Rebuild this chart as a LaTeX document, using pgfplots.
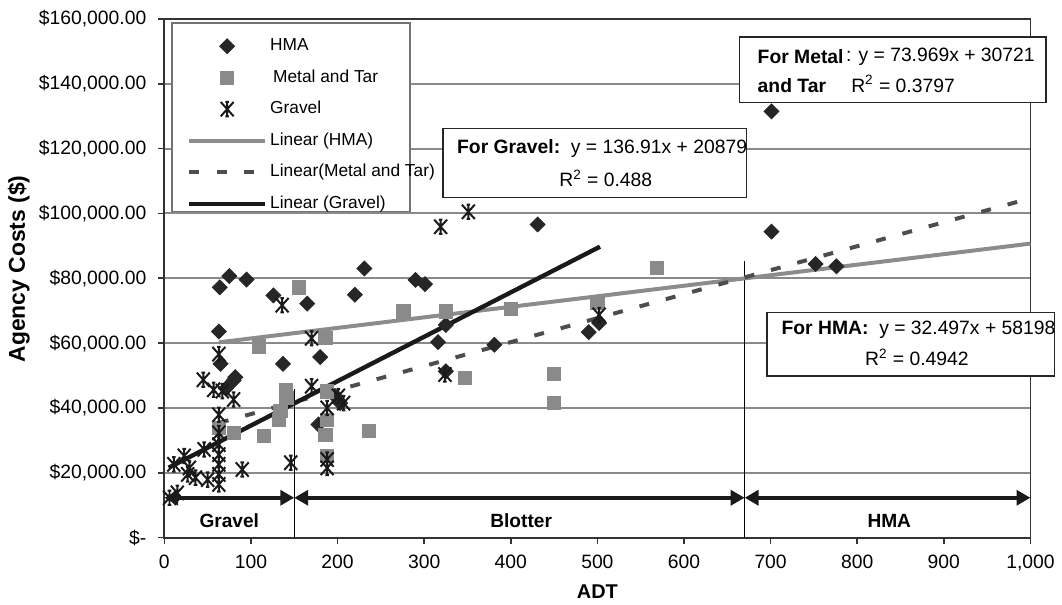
\documentclass[border=0pt]{standalone}
\usepackage{fontspec}
\setmainfont{Liberation Sans}
\usepackage{pgfplots}
\pgfplotsset{compat=1.18}
\usetikzlibrary{arrows.meta}

\definecolor{hmacol}{HTML}{262626}
\definecolor{metcol}{HTML}{8A8A8A}
\definecolor{grvcol}{HTML}{1A1A1A}
\definecolor{hmaline}{HTML}{8C8C8C}
\definecolor{metline}{HTML}{4D4D4D}
\definecolor{gridcol}{HTML}{8A8A8A}

% Excel-like "star" marker: X plus vertical bar with flat caps
\pgfdeclareplotmark{xstar}{%
  \pgfpathmoveto{\pgfqpoint{-0.9\pgfplotmarksize}{-\pgfplotmarksize}}%
  \pgfpathlineto{\pgfqpoint{0.9\pgfplotmarksize}{\pgfplotmarksize}}%
  \pgfpathmoveto{\pgfqpoint{-0.9\pgfplotmarksize}{\pgfplotmarksize}}%
  \pgfpathlineto{\pgfqpoint{0.9\pgfplotmarksize}{-\pgfplotmarksize}}%
  \pgfpathmoveto{\pgfqpoint{0pt}{-\pgfplotmarksize}}%
  \pgfpathlineto{\pgfqpoint{0pt}{\pgfplotmarksize}}%
  \pgfpathmoveto{\pgfqpoint{-0.25\pgfplotmarksize}{\pgfplotmarksize}}%
  \pgfpathlineto{\pgfqpoint{0.25\pgfplotmarksize}{\pgfplotmarksize}}%
  \pgfpathmoveto{\pgfqpoint{-0.25\pgfplotmarksize}{-\pgfplotmarksize}}%
  \pgfpathlineto{\pgfqpoint{0.25\pgfplotmarksize}{-\pgfplotmarksize}}%
  \pgfusepathqstroke
}

\newcommand{\lgd}[1]{\raisebox{-3.1pt}[0pt][0pt]{#1}}

\pgfplotsset{
  mklegend/.style={legend image code/.code={%
    \path (0pt,-5.4pt) (38pt,5.4pt);
    \draw[mark repeat=2,mark phase=2,##1] plot coordinates {(0pt,0pt) (19pt,0pt) (38pt,0pt)};}},
  lnlegend/.style={legend image code/.code={%
    \path (0pt,-4.6pt) (38pt,4.6pt);
    \draw[##1] (0pt,0pt) -- (38pt,0pt);}},
}

\pgfplotstableread{
x y
64 77200
75 80700
95 79600
63 63600
65 53600
82 49500
71 46000
80 48500
126 74700
137 53600
165 72200
180 55700
178 34900
197 43700
203 41500
220 74900
231 83000
290 79500
301 78200
316 60300
325 65600
325 51300
381 59500
431 96600
490 63400
502 66200
701 131500
701 94400
752 84400
776 83700
}\hmadata

\pgfplotstableread{
x y
155 77200
109 59000
186 61500
140 45600
141 43100
134 39000
132 36400
115 31400
63 33800
80 32300
188 45100
188 36400
186 31800
188 25200
236 32900
276 69800
325 69800
400 70600
500 72300
347 49200
450 50500
450 41500
569 83100
}\metdata

\pgfplotstableread{
x y
6 12300
15 13800
11 22600
23 25200
27 19500
29 21500
36 18500
46 27200
50 17900
45 48700
57 45600
67 45200
80 42600
63 56600
63 37900
63 32300
63 28700
63 25600
63 22600
63 19500
63 16400
90 21000
136 71700
146 23100
170 61500
170 46700
188 40000
201 43700
207 41500
188 24100
188 21500
319 95900
351 100500
324 50300
502 68700
}\grvdata

\begin{document}
\begin{tikzpicture}
\begin{axis}[
  scale only axis, width=435pt, height=260.5pt,
  xmin=0, xmax=1000, ymin=0, ymax=160000,
  clip=false,
  axis line style={black!80, line width=0.9pt},
  tick align=outside, tick pos=left, major tick length=3pt,
  tick style={black!80, line width=0.8pt},
  xtick={0,100,...,1000},
  xticklabels={0,100,200,300,400,500,600,700,800,900,{1,000}},
  ytick={0,20000,...,160000},
  yticklabels={\$-,{\$20,000.00},{\$40,000.00},{\$60,000.00},{\$80,000.00},{\$100,000.00},{\$120,000.00},{\$140,000.00},{\$160,000.00}},
  scaled y ticks=false, scaled x ticks=false,
  ticklabel style={font=\fontsize{9.7}{11}\selectfont},
  yticklabel style={xshift=-2.5pt},
  xticklabel style={yshift=-2.3pt},
  ymajorgrids, grid style={gridcol, line width=1pt},
  xlabel={\textbf{ADT}}, ylabel={\textbf{Agency Costs (\$)}},
  xlabel style={font=\fontsize{10}{12}\selectfont, at={(axis description cs:0.5,-0.1035)}, anchor=center},
  ylabel style={font=\fontsize{11.5}{13}\selectfont, at={(axis description cs:-0.168,0.518)}, anchor=center},
  legend cell align=left,
  legend style={at={(axis description cs:0.0264,0.9689)}, anchor=north west,
    draw=none, fill=none, inner sep=0pt, outer sep=0pt,
    row sep=4.6pt, column sep=1.5pt,
    font=\fontsize{8.7}{10}\selectfont,
    nodes={inner sep=0pt}},
]
% legend frame
\draw[black!55, line width=0.9pt, fill=white] (axis cs:9.2,100600) rectangle (axis cs:284,158800);

% region separators and arrows
\draw[black, line width=0.6pt] (axis cs:150,0) -- (axis cs:150,46000);
\draw[black, line width=0.6pt] (axis cs:670,0) -- (axis cs:670,85200);
\draw[grvcol, line width=2pt, {Triangle[length=7pt,width=7.5pt]}-{Triangle[length=7pt,width=7.5pt]}] (axis cs:0,12300) -- (axis cs:150,12300);
\draw[grvcol, line width=2pt, {Triangle[length=7pt,width=7.5pt]}-{Triangle[length=7pt,width=7.5pt]}] (axis cs:150,12300) -- (axis cs:670,12300);
\draw[grvcol, line width=2pt, {Triangle[length=7pt,width=7.5pt]}-{Triangle[length=7pt,width=7.5pt]}] (axis cs:670,12300) -- (axis cs:1000,12300);
\node[font=\bfseries\fontsize{9.6}{11}\selectfont] at (axis cs:75,5300) {Gravel};
\node[font=\bfseries\fontsize{9.6}{11}\selectfont] at (axis cs:412,5300) {Blotter};
\node[font=\bfseries\fontsize{9.6}{11}\selectfont] at (axis cs:837,5300) {HMA};

\addplot[mklegend, only marks, mark=square*, mark size=2.65pt, mark options={rotate=45, fill=hmacol, draw=hmacol}] table {\hmadata};
\addlegendentry{\lgd{HMA}}
\addplot[mklegend, only marks, mark=square*, mark size=3.3pt, mark options={fill=metcol, draw=metcol}] table {\metdata};
\addlegendentry{\lgd{\hspace{1.5pt}Metal and Tar}}
\addplot[mklegend, only marks, mark=xstar, mark size=3.6pt, mark options={draw=grvcol, line width=1pt}] table {\grvdata};
\addlegendentry{\lgd{Gravel}}

\addplot[lnlegend, hmaline, line width=2pt, no marks] coordinates {(63,60245) (1000,90695)};
\addlegendentry{\lgd{Linear (HMA)}}
\addplot[lnlegend, metline, line width=2pt, no marks, dash pattern=on 5pt off 8.7pt] coordinates {(63,35381) (1000,104690)};
\addlegendentry{\lgd{Linear(Metal and Tar)}}
\addplot[lnlegend, grvcol, line width=2.2pt, no marks] coordinates {(5,21564) (503,89744)};
\addlegendentry{\lgd{Linear (Gravel)}}

% equation boxes
\draw[black!85, line width=0.8pt, fill=white] (axis cs:322,104900) rectangle (axis cs:672,126200);
\node[anchor=west, font=\fontsize{9.7}{11}\selectfont] at (axis cs:330,120000) {\textbf{For Gravel:}\ \ y = 136.91x + 20879};
\node[anchor=west, font=\fontsize{9.7}{11}\selectfont] at (axis cs:448,110800) {R\textsuperscript{2} = 0.488};

\draw[black!85, line width=0.8pt, fill=white] (axis cs:664,134200) rectangle (axis cs:1018,154500);
\node[anchor=west, font=\bfseries\fontsize{9.7}{11}\selectfont] at (axis cs:677,148300) {For Metal};
\node[anchor=west, font=\bfseries\fontsize{9.7}{11}\selectfont] at (axis cs:677,139400) {and Tar};
\node[anchor=west, font=\fontsize{9.7}{11}\selectfont] at (axis cs:779,148300) {: y = 73.969x + 30721};
\node[anchor=west, font=\fontsize{9.7}{11}\selectfont] at (axis cs:785,140000) {R\textsuperscript{2} = 0.3797};

\draw[black!85, line width=0.8pt, fill=white] (axis cs:696,49800) rectangle (axis cs:1027.6,69400);
\node[anchor=west, font=\fontsize{9.7}{11}\selectfont] at (axis cs:704.6,64100) {\textbf{For HMA:}\ \ y = 32.497x + 58198};
\node[anchor=west, font=\fontsize{9.7}{11}\selectfont] at (axis cs:801,55700) {R\textsuperscript{2} = 0.4942};

% page extent
\path (rel axis cs:-0.1897,-0.1248) (rel axis cs:1.031,1.0365);
\end{axis}
\end{tikzpicture}
\end{document}
